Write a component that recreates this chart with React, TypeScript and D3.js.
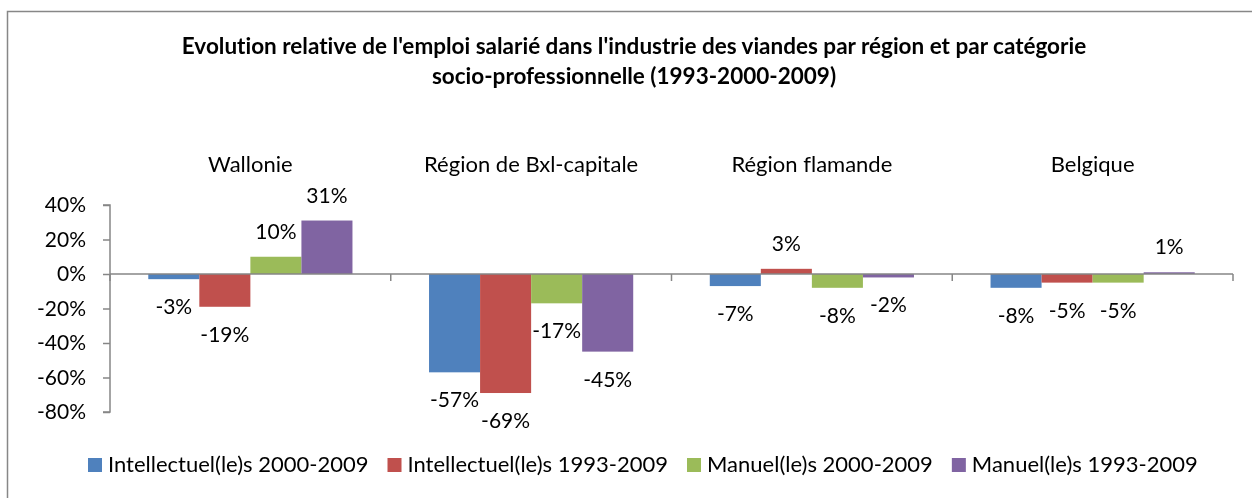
import React, { useRef, useEffect } from "react";
import * as d3 from "d3";

const regions = ["Wallonie", "Région de Bxl-capitale", "Région flamande", "Belgique"];
const seriesNames = [
  "Intellectuel(le)s 2000-2009",
  "Intellectuel(le)s 1993-2009",
  "Manuel(le)s 2000-2009",
  "Manuel(le)s 1993-2009",
];
const intel2000 = [-0.03, -0.57, -0.07, -0.08];
const intel1993 = [-0.19, -0.69, 0.03, -0.05];
const manuel2000 = [0.1, -0.17, -0.08, -0.05];
const manuel1993 = [0.31, -0.45, -0.02, 0.01];
const yTicks = [0.4, 0.2, 0, -0.2, -0.4, -0.6, -0.8];
const colors = ["#4F81BD", "#C0504D", "#9BBB59", "#8064A2"];
const titleLines = [
  "Evolution relative de l'emploi salarié dans l'industrie des viandes par région et par catégorie",
  "socio-professionnelle (1993-2000-2009)",
];

const FONT = "Lato, 'Open Sans', sans-serif";

export default function App() {
  const svgRef = useRef<SVGSVGElement>(null);

  useEffect(() => {
    const W = 1252;
    const H = 498;
    const svg = d3.select(svgRef.current);
    svg.selectAll("*").remove();
    svg
      .attr("width", W)
      .attr("height", H)
      .style("font-family", FONT)
      .style("font-variant-ligatures", "none");

    // frame (only left and top are visible in the crop)
    svg
      .append("path")
      .attr("d", `M7.5,${H + 5}V11.5H${W + 5}`)
      .attr("fill", "none")
      .attr("stroke", "#878787")
      .attr("stroke-width", 1.5);

    // title
    titleLines.forEach((t, i) => {
      svg
        .append("text")
        .attr("x", 634)
        .attr("y", 54 + i * 30)
        .attr("text-anchor", "middle")
        .attr("font-weight", "bold")
        .attr("font-size", 22.5)
        .text(t);
    });

    // scales
    const x0 = d3.scaleBand().domain(regions).range([110, 1233]).paddingInner(0).paddingOuter(0);
    const x1 = d3
      .scaleBand()
      .domain(seriesNames)
      .range([0, x0.bandwidth()])
      .paddingInner(0)
      .paddingOuter(0.75);
    const y = d3.scaleLinear().domain([-0.8, 0.4]).range([412, 205]);

    const series = [intel2000, intel1993, manuel2000, manuel1993];
    const fmt = (v: number) => d3.format(".0%")(v).replace("\u2212", "-");

    // y axis
    const yAxis = d3
      .axisLeft(y)
      .tickValues(yTicks)
      .tickSize(7)
      .tickPadding(17)
      .tickFormat((d) => fmt(d as number));
    const gy = svg.append("g").attr("transform", "translate(110,0)").call(yAxis);
    gy.selectAll("path, line").attr("stroke", "#868686").attr("stroke-width", 1.5);
    gy.select(".domain").attr("d", `M-7,${y(0.4)}H0V${y(-0.8)}H-7`);
    gy.selectAll("text").attr("font-size", 21).attr("font-family", FONT).attr("fill", "#000");

    // bars
    regions.forEach((r, ci) => {
      const g = svg.append("g").attr("transform", `translate(${x0(r)},0)`);
      series.forEach((vals, si) => {
        const v = vals[ci];
        const bx = x1(seriesNames[si]) as number;
        g.append("rect")
          .attr("x", bx)
          .attr("y", Math.min(y(v), y(0)))
          .attr("width", x1.bandwidth())
          .attr("height", Math.abs(y(v) - y(0)))
          .attr("fill", colors[si]);
        g.append("text")
          .attr("x", bx + x1.bandwidth() / 2)
          .attr("y", v >= 0 ? y(v) - 18 : y(v) + 35)
          .attr("text-anchor", "middle")
          .attr("font-size", 21)
          .attr("fill", "#000")
          .text(fmt(v));
      });
      // category label above plot
      svg
        .append("text")
        .attr("x", (x0(r) as number) + x0.bandwidth() / 2)
        .attr("y", 172)
        .attr("text-anchor", "middle")
        .attr("font-size", 22)
        .attr("fill", "#000")
        .text(r);
    });

    // x axis at zero, ticks on category boundaries
    const gx = svg.append("g").attr("transform", `translate(0,${y(0)})`);
    const boundaries = [x0.range()[0], ...regions.map((r) => (x0(r) as number) + x0.bandwidth())];
    gx.append("path")
      .attr("d", `M${x0.range()[0]},0H${x0.range()[1]}`)
      .attr("stroke", "#868686")
      .attr("stroke-width", 1.5);
    gx.selectAll(".btick")
      .data(boundaries)
      .join("line")
      .attr("class", "btick")
      .attr("x1", (d) => d)
      .attr("x2", (d) => d)
      .attr("y1", 0)
      .attr("y2", 7)
      .attr("stroke", "#868686")
      .attr("stroke-width", 1.5);

    // legend
    const lg = svg.append("g").attr("transform", "translate(88,472)");
    let cx = 0;
    seriesNames.forEach((n, i) => {
      lg.append("rect")
        .attr("x", cx)
        .attr("y", -14)
        .attr("width", 14)
        .attr("height", 14)
        .attr("fill", colors[i]);
      const t = lg
        .append("text")
        .attr("x", cx + 20)
        .attr("y", 0)
        .attr("font-size", 22)
        .attr("fill", "#000")
        .text(n);
      const w = (t.node() as SVGTextElement).getComputedTextLength();
      cx += 20 + w + 19;
    });
  }, []);

  return (
    <div style={{ position: "fixed", left: 0, top: 0 }}>
      <svg ref={svgRef}></svg>
    </div>
  );
}
